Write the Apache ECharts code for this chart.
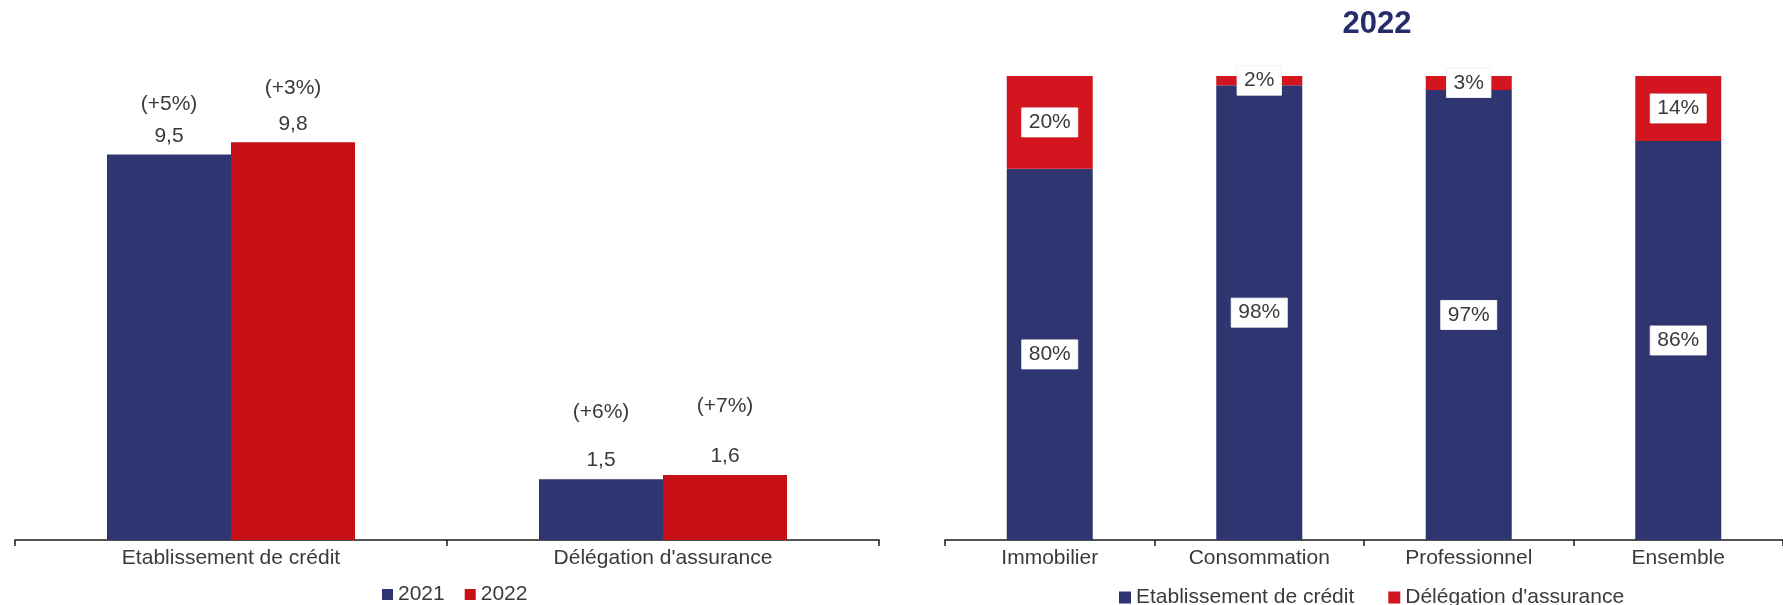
<!DOCTYPE html>
<html>
<head>
<meta charset="utf-8">
<script src="https://cdn.jsdelivr.net/npm/echarts@6/dist/echarts.min.js"></script>
<style>
html,body{margin:0;padding:0;background:#fff;}
#c{width:1783px;height:605px;}
</style>
</head>
<body>
<div id="c"></div>
<script>
// ---- Data ----
const leftCategories = ["Etablissement de crédit", "Délégation d'assurance"];
const leftSeriesNames = ["2021", "2022"];
const values2021 = [9.5, 1.5];
const values2022 = [9.8, 1.6];
const growth2021 = ["(+5%)", "(+6%)"];
const growth2022 = ["(+3%)", "(+7%)"];

const rightTitle = "2022";
const rightCategories = ["Immobilier", "Consommation", "Professionnel", "Ensemble"];
const rightSeriesNames = ["Etablissement de crédit", "Délégation d'assurance"];
const shareEtab = [80, 98, 97, 86];
const shareDeleg = [20, 2, 3, 14];

// ---- Styles ----
const NAVY = "#2f3571";
const RED_L = "#c61016";
const RED_R = "#d3151f";
const TXT = "#3a3a3a";
const FONT = "'Liberation Sans', Arial, sans-serif";
const FS = 21;
// vertical gap (px) between growth label and value label, per category
const gap2021 = [32, 48];
const gap2022 = [36, 50];

function fmt(v){ return v.toFixed(1).replace('.', ','); }

function leftData(values, growth, gaps){
  return values.map((v, i) => ({
    value: v,
    label: {
      formatter: '{p|' + growth[i] + '}\n{v|' + fmt(v) + '}',
      rich: {
        p: {fontSize: FS, fontFamily: FONT, color: TXT, lineHeight: 2 * (gaps[i] - 10.5)},
        v: {fontSize: FS, fontFamily: FONT, color: TXT, lineHeight: 21}
      }
    }
  }));
}

const chart = echarts.init(document.getElementById('c'), null, {renderer: 'canvas'});

const axisLineStyle = {show: true, lineStyle: {color: '#1a1a1a', width: 1.5}};
const axisTickStyle = {show: true, length: 6, lineStyle: {color: '#1a1a1a', width: 1.5}};
const axisLabelStyle = {fontSize: FS, fontFamily: FONT, color: TXT, margin: 8};

const boxLabel = {show: true, position: 'inside', formatter: p => p.value + '%',
  backgroundColor: '#fff', padding: [5, 7, 3, 7], fontSize: FS, fontFamily: FONT, color: TXT,
  borderColor: '#e6e6e6', borderWidth: 0.5};

const option = {
  animation: false,
  backgroundColor: '#fff',
  title: [{
    text: rightTitle,
    left: 1372, top: 4,
    textAlign: 'center',
    textStyle: {fontSize: 31, fontWeight: 'bold', color: '#262b6b', fontFamily: FONT}
  }],
  legend: [{
    data: leftSeriesNames,
    left: 377, top: 579,
    icon: 'rect', itemWidth: 11, itemHeight: 11, itemGap: 20, itemStyle: {borderWidth: 0},
    textStyle: {fontSize: FS, fontFamily: FONT, color: TXT}
  }, {
    data: rightSeriesNames,
    left: 1114, top: 582,
    icon: 'rect', itemWidth: 12, itemHeight: 12, itemGap: 34, itemStyle: {borderWidth: 0},
    textStyle: {fontSize: FS, fontFamily: FONT, color: TXT}
  }],
  grid: [
    {left: 15, width: 864, top: 53, height: 487},
    {left: 945, width: 855, top: 76, height: 464}
  ],
  xAxis: [
    {type: 'category', gridIndex: 0, data: leftCategories,
     axisLine: axisLineStyle, axisTick: axisTickStyle, axisLabel: axisLabelStyle},
    {type: 'category', gridIndex: 1, data: rightCategories,
     axisLine: axisLineStyle, axisTick: axisTickStyle, axisLabel: axisLabelStyle}
  ],
  yAxis: [
    {type: 'value', gridIndex: 0, min: 0, max: 12, show: false, splitLine: {show: false}},
    {type: 'value', gridIndex: 1, min: 0, max: 100, show: false, splitLine: {show: false}}
  ],
  series: [
    {name: leftSeriesNames[0], type: 'bar', xAxisIndex: 0, yAxisIndex: 0,
     barWidth: 124, barGap: '0%', itemStyle: {color: NAVY},
     label: {show: true, position: 'top', distance: 8},
     data: leftData(values2021, growth2021, gap2021)},
    {name: leftSeriesNames[1], type: 'bar', xAxisIndex: 0, yAxisIndex: 0,
     barWidth: 124, barGap: '0%', itemStyle: {color: RED_L},
     label: {show: true, position: 'top', distance: 8},
     data: leftData(values2022, growth2022, gap2022)},
    {name: rightSeriesNames[0], type: 'bar', xAxisIndex: 1, yAxisIndex: 1, stack: 's',
     barWidth: 86, itemStyle: {color: NAVY},
     label: boxLabel,
     data: shareEtab},
    {name: rightSeriesNames[1], type: 'bar', xAxisIndex: 1, yAxisIndex: 1, stack: 's',
     barWidth: 86, itemStyle: {color: RED_R},
     label: boxLabel,
     data: shareDeleg}
  ]
};
chart.setOption(option);
</script>
</body>
</html>
